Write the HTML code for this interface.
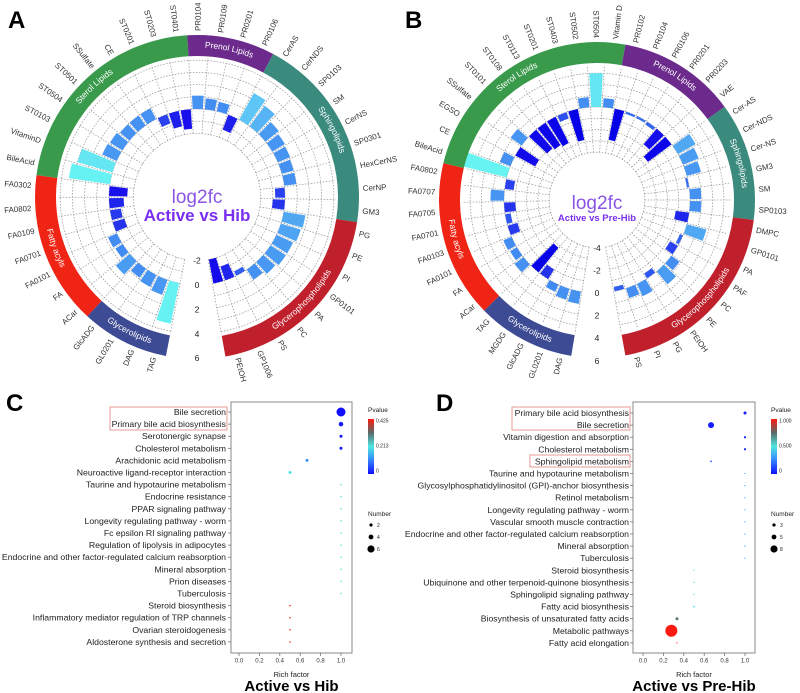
<!DOCTYPE html>
<html><head><meta charset="utf-8"><style>
html,body{margin:0;padding:0;background:#fff}
svg{display:block;font-family:"Liberation Sans",Arial,sans-serif}
</style></head><body>
<svg id="fig" width="800" height="693" viewBox="0 0 800 693" xmlns="http://www.w3.org/2000/svg">
<defs>
<linearGradient id="pg" x1="0" y1="1" x2="0" y2="0">
<stop offset="0" stop-color="#1010ff"/><stop offset="0.3" stop-color="#3a9af8"/><stop offset="0.5" stop-color="#50e6e0"/><stop offset="0.75" stop-color="#5a6a6a"/><stop offset="1" stop-color="#ff1a10"/>
</linearGradient>
</defs>
<g id="panelA"></g>
<g id="panelB"></g>
<g id="panelC"></g>
<g id="panelD"></g>
<text x="8" y="28" font-size="24" font-weight="bold">A</text>
<text x="405" y="28" font-size="24" font-weight="bold">B</text>
<text x="6" y="411" font-size="24" font-weight="bold">C</text>
<text x="436" y="411" font-size="24" font-weight="bold">D</text>
</svg>
<script>
// ---------- Data: panel A ----------
const aLabels = ["TAG","DAG","GL0201","GlcADG","ACar","FA","FA0101","FA0701","FA0109","FA0802","FA0302","BileAcid","VitaminD","ST0103","ST0504","ST0501","SSulfate","CE","ST0201","ST0203","ST0401","PR0104","PR0109","PR0201","PR0106","CerAS","CerNDS","SP0103","SM","CerNS","SP0301","HexCerNS","CerNP","GM3","PG","PE","PI","GP0101","PA","PC","PS","GP1006","PEtOH"];
const aValues = [3.4,1.3,1.1,0.9,1.5,0.7,0.8,-1.0,-0.9,-1.2,-1.5,3.4,3.0,1.3,1.2,1.0,1.0,1.0,-0.8,-1.3,-1.6,1.1,0.9,0.8,-1.3,2.5,2.1,1.4,1.2,1.1,1.0,1.0,-0.8,-1.0,1.8,1.7,1.5,1.5,1.3,1.0,-0.4,-1.2,-2.0];
const aGroups = ["Glycerolipids","Fatty acyls","Sterol Lipids","Prenol Lipids","Sphingolipids","Glycerophospholipids"];
const aGroupCounts = [4,7,10,4,9,9];
const aTicks = [-2,0,2,4,6];
// ---------- Data: panel B ----------
const bLabels = ["DAG","GL0201","GlcADG","MGDG","TAG","ACar","FA","FA0101","FA0103","FA0701","FA0705","FA0707","FA0802","BileAcid","CE","EGSO","SSulfate","ST0101","ST0108","ST0113","ST0201","ST0403","ST0502","ST0504","Vitamin D","PR0102","PR0104","PR0106","PR0201","PR0203","VAE","Cer-AS","Cer-NDS","Cer-NS","GM3","SM","SP0103","DMPC","GP0101","PA","PAF","PC","PE","PEtOH","PG","PI","PS"];
const bValues = [1.1,1.0,0.7,-1.0,-2.8,1.0,0.7,0.8,-0.9,-0.5,-1.0,1.2,-0.8,4.0,1.0,-2.0,1.2,-2.2,-2.4,-2.6,-0.6,-2.8,0.9,3.0,0.8,-2.8,-0.2,-0.2,-0.3,-1.8,-2.6,1.8,1.5,1.3,-0.2,1.0,1.0,-1.2,1.8,-0.3,-0.8,0.9,1.5,-0.5,1.2,0.9,-0.4];
const bGroups = ["Glycerolipids","Fatty acyls","Sterol Lipids","Prenol Lipids","Sphingolipids","Glycerophospholipids"];
const bGroupCounts = [5,8,12,6,6,10];
const bTicks = [-4,-2,0,2,4,6];
// ---------- Data: panel C ----------
const cPathways = ["Bile secretion","Primary bile acid biosynthesis","Serotonergic synapse","Cholesterol metabolism","Arachidonic acid metabolism","Neuroactive ligand-receptor interaction","Taurine and hypotaurine metabolism","Endocrine resistance","PPAR signaling pathway","Longevity regulating pathway - worm","Fc epsilon RI signaling pathway","Regulation of lipolysis in adipocytes","Endocrine and other factor-regulated calcium reabsorption","Mineral absorption","Prion diseases","Tuberculosis","Steroid biosynthesis","Inflammatory mediator regulation of TRP channels","Ovarian steroidogenesis","Aldosterone synthesis and secretion"];
const cRich = [1.0,1.0,1.0,1.0,0.667,0.5,1,1,1,1,1,1,1,1,1,1,0.5,0.5,0.5,0.5];
const cNumber = [6,3,2,2,2,2,1,1,1,1,1,1,1,1,1,1,1,1,1,1];
const cPvalue = [0.0,0.01,0.01,0.01,0.12,0.21,0.22,0.22,0.22,0.22,0.22,0.22,0.22,0.22,0.22,0.22,0.425,0.425,0.425,0.425];
// ---------- Data: panel D ----------
const dPathways = ["Primary bile acid biosynthesis","Bile secretion","Vitamin digestion and absorption","Cholesterol metabolism","Sphingolipid metabolism","Taurine and hypotaurine metabolism","Glycosylphosphatidylinositol (GPI)-anchor biosynthesis","Retinol metabolism","Longevity regulating pathway - worm","Vascular smooth muscle contraction","Endocrine and other factor-regulated calcium reabsorption","Mineral absorption","Tuberculosis","Steroid biosynthesis","Ubiquinone and other terpenoid-quinone biosynthesis","Sphingolipid signaling pathway","Fatty acid biosynthesis","Biosynthesis of unsaturated fatty acids","Metabolic pathways","Fatty acid elongation"];
const dRich = [1.0,0.667,1.0,1.0,0.667,1,1,1,1,1,1,1,1,0.5,0.5,0.5,0.5,0.333,0.278,0.333];
const dNumber = [2,4,1.5,1.5,1.2,0.8,0.8,0.8,0.8,0.8,0.8,0.8,0.8,0.8,0.8,0.8,1.2,2,8,0.8];
const dPvalue = [0.02,0.03,0.05,0.05,0.15,0.3,0.3,0.3,0.3,0.3,0.3,0.3,0.3,0.52,0.52,0.52,0.5,0.72,1.0,1.0];
const xTickVals = [0.0,0.2,0.4,0.6,0.8,1.0];

const NS="http://www.w3.org/2000/svg";
function mk(parent,tag,attrs){const e=document.createElementNS(NS,tag);for(const k in attrs)e.setAttribute(k,attrs[k]);parent.appendChild(e);return e;}
function pt(cx,cy,r,deg){const a=deg*Math.PI/180;return [cx+r*Math.sin(a),cy-r*Math.cos(a)];}
function arcPath(cx,cy,r,a0,a1){const p0=pt(cx,cy,r,a0),p1=pt(cx,cy,r,a1);const large=(Math.abs(a1-a0)>180)?1:0;const sw=a1>a0?1:0;return `M${p0[0]},${p0[1]} A${r},${r} 0 ${large} ${sw} ${p1[0]},${p1[1]}`;}
function sector(cx,cy,r0,r1,a0,a1){const p0=pt(cx,cy,r1,a0),p1=pt(cx,cy,r1,a1),p2=pt(cx,cy,r0,a1),p3=pt(cx,cy,r0,a0);const large=(a1-a0>180)?1:0;return `M${p0[0]},${p0[1]} A${r1},${r1} 0 ${large} 1 ${p1[0]},${p1[1]} L${p2[0]},${p2[1]} A${r0},${r0} 0 ${large} 0 ${p3[0]},${p3[1]} Z`;}
function lerpC(c1,c2,t){const a=parseInt(c1.slice(1),16),b=parseInt(c2.slice(1),16);const r=Math.round(((a>>16)&255)*(1-t)+((b>>16)&255)*t),g=Math.round(((a>>8)&255)*(1-t)+((b>>8)&255)*t),bl=Math.round((a&255)*(1-t)+(b&255)*t);return `rgb(${r},${g},${bl})`;}
function barColor(v){const st=[[-3,"#0500e6"],[-1.5,"#1a10ec"],[0,"#3a7af0"],[1.5,"#4a9cf2"],[2.4,"#5cc0f6"],[3.2,"#66f2f2"],[5,"#66f5f2"]];if(v<=st[0][0])return st[0][1];for(let i=1;i<st.length;i++){if(v<=st[i][0]){return lerpC(st[i-1][1],st[i][1],(v-st[i-1][0])/(st[i][0]-st[i-1][0]));}}return st[st.length-1][1];}
const groupColors={"Glycerolipids":"#3d4a94","Fatty acyls":"#f02414","Sterol Lipids":"#3a9a4c","Prenol Lipids":"#6b2a8c","Sphingolipids":"#3a8a7e","Glycerophospholipids":"#c0202c"};

function circular(g,cfg,labels,values,groups,counts,ticks){
  const {cx,cy,r0,k,startA,step,ringIn,ringOut}=cfg;
  const rv=v=>r0+k*v;
  const n=labels.length, aOf=i=>startA+i*step;
  const aFirst=aOf(0)-step/2, aLast=aOf(n-1)+step/2;
  for(let v=ticks[0];rv(v)<ringIn-1;v+=1){
    const c=mk(g,"path",{d:arcPath(cx,cy,rv(v),aFirst,aLast),fill:"none",stroke:"#999","stroke-width":0.75,"stroke-dasharray":"1.5,1.5"});
    
    
  }
  for(let i=0;i<=n;i++){
    const a=aFirst+i*step;const p0=pt(cx,cy,rv(ticks[0]),a),p1=pt(cx,cy,ringIn-2,a);
    const l=mk(g,"line",{x1:p0[0],y1:p0[1],x2:p1[0],y2:p1[1],stroke:"#999","stroke-width":0.75,"stroke-dasharray":"1.5,1.5"});
    
    
  }
  values.forEach((v,i)=>{
    const a=aOf(i),w=step*0.42;
    const ra=Math.min(rv(0),rv(v)),rb=Math.max(rv(0),rv(v));
    const b=mk(g,"path",{d:sector(cx,cy,ra,Math.max(rb,ra+1.5),a-w,a+w),fill:barColor(v)});
    
    
  });
  labels.forEach((s,i)=>{
    const a=aOf(i);const am=((a%360)+360)%360;const p=pt(cx,cy,ringOut+4,a);
    const right=am<180;const rot=right?am-90:am+90;
    const t=mk(g,"text",{x:p[0],y:p[1],"font-size":7.9,fill:"#333","text-anchor":right?"start":"end","dominant-baseline":"middle",transform:`rotate(${rot},${p[0]},${p[1]})`});
    t.textContent=s;
    
    
  });
  let idx=0;
  groups.forEach((gname,gi)=>{
    const a0=aOf(idx)-step/2,a1=aOf(idx+counts[gi]-1)+step/2;idx+=counts[gi];
    const s=mk(g,"path",{d:sector(cx,cy,ringIn,ringOut,a0,a1),fill:groupColors[gname]});
    
    
    const mid=(((a0+a1)/2)%360+360)%360;const rm=(ringIn+ringOut)/2;
    const pid=g.id+'-arc'+gi;
    const d=(mid>90&&mid<270)?arcPath(cx,cy,rm,a1,a0):arcPath(cx,cy,rm,a0,a1);
    mk(g,"path",{id:pid,d:d,fill:"none"});
    const t=mk(g,"text",{"font-size":8.5,fill:"#fff","dominant-baseline":"middle"});
    
    
    const tp=mk(t,"textPath",{href:'#'+pid,startOffset:"50%","text-anchor":"middle"});
    tp.textContent=gname;
  });
  ticks.forEach(v=>{
    const t=mk(g,"text",{x:cx,y:cy+rv(v)+3,"font-size":8.5,fill:"#222","text-anchor":"middle"});
    t.textContent=v;
    
    
  });
}
const gA=document.getElementById('panelA');
circular(gA,{cx:197,cy:197,r0:88,k:12.2,startA:195,step:7.88,ringIn:141,ringOut:162},aLabels,aValues,aGroups,aGroupCounts,aTicks);
const gB=document.getElementById('panelB');
circular(gB,{cx:597,cy:200,r0:93,k:11.3,startA:193,step:7.24,ringIn:137,ringOut:158},bLabels,bValues,bGroups,bGroupCounts,bTicks);
function ctext(g,x,y,s,size,fill,weight,name){const t=mk(g,"text",{x:x,y:y,"font-size":size,fill:fill,"font-weight":weight,"text-anchor":"middle"});t.textContent=s;}
ctext(gA,197,203,"log2fc",19,"#8a55e6","normal","center-title");
ctext(gA,197,221,"Active vs Hib",17,"#7a2ff0","bold","center-subtitle");
ctext(gB,597,209,"log2fc",19,"#8a55e6","normal","center-title");
ctext(gB,597,221,"Active vs Pre-Hib",9.5,"#7a2ff0","bold","center-subtitle");

function pColor(t){const st=[[0,"#1010ff"],[0.3,"#3a9af8"],[0.5,"#50e6e0"],[0.75,"#5a6a6a"],[1,"#ff1a10"]];for(let i=1;i<st.length;i++){if(t<=st[i][0])return lerpC(st[i-1][1],st[i][1],(t-st[i-1][0])/(st[i][0]-st[i-1][0]));}return st[4][1];}
function dotplot(g,cfg,paths,rich,num,pv,pmax,legTicks,numLeg,numR,title){
  const {x0,x1,px0,px1,top,bot,row0,rowH,lx}=cfg;
  const xs=v=>px0+(px1-px0)*v, ys=i=>row0+i*rowH;
  const box=mk(g,"rect",{x:x0,y:top,width:x1-x0,height:bot-top,fill:"none",stroke:"#888","stroke-width":1});
  
  
  paths.forEach((s,i)=>{
    const t=mk(g,"text",{x:lx,y:ys(i)+3,"font-size":8.7,fill:"#222","text-anchor":"end"});t.textContent=s;
    
    
    mk(g,"line",{x1:x0-3,x2:x0,y1:ys(i),y2:ys(i),stroke:"#666","stroke-width":0.7});
  });
  xTickVals.forEach(v=>{
    mk(g,"line",{x1:xs(v),x2:xs(v),y1:bot,y2:bot+3,stroke:"#666","stroke-width":0.7});
    const t=mk(g,"text",{x:xs(v),y:bot+9.5,"font-size":6,fill:"#333","text-anchor":"middle"});t.textContent=v.toFixed(1);
    
    
  });
  rich.forEach((r,i)=>{
    const c=mk(g,"circle",{cx:xs(r),cy:ys(i),r:Math.max(0.6,num[i]*0.75),fill:pColor(pv[i]/pmax)});
    
    
  });
  const mx=(x0+x1)/2;
  ctext(g,mx,bot+24,"Rich factor",7.5,"#222","normal","x-axis-title");
  ctext(g,mx,bot+38,title,15,"#000","bold","plot-title");
  const lgx=x1+16;
  const lt=mk(g,"text",{x:lgx,y:top+10,"font-size":6.5,fill:"#222"});lt.textContent="Pvalue";
  
  
  const cb=mk(g,"rect",{x:lgx,y:top+17,width:6,height:55,fill:"url(#pg)"});
  
  
  legTicks.forEach((s,i)=>{const t=mk(g,"text",{x:lgx+8,y:top+19+i*25,"font-size":5,fill:"#222","dominant-baseline":"middle"});t.textContent=s;
    
    });
  const nt=mk(g,"text",{x:lgx,y:top+114,"font-size":6.5,fill:"#222"});nt.textContent="Number";
  
  
  numLeg.forEach((s,i)=>{
    const yy=top+123+i*12;
    mk(g,"circle",{cx:lgx+3,cy:yy,r:numR[i],fill:"#000"});
    const t=mk(g,"text",{x:lgx+9,y:yy+2,"font-size":5,fill:"#222"});t.textContent=s;
    
    
  });
}
const gC=document.getElementById('panelC');
dotplot(gC,{x0:231,x1:352,px0:239,px1:341,top:402,bot:653,row0:412,rowH:12.1,lx:226},cPathways,cRich,cNumber,cPvalue,0.425,["0.425","0.213","0"],["2","4","6"],[1.6,2.4,3.6],"Active vs Hib");
const gD=document.getElementById('panelD');
dotplot(gD,{x0:633,x1:755,px0:643,px1:745,top:402,bot:653,row0:413,rowH:12.1,lx:629},dPathways,dRich,dNumber,dPvalue,1.0,["1.000","0.500","0"],["3","5","8"],[1.6,2.4,3.6],"Active vs Pre-Hib");
[[gC,110,407,117,23],[gD,512,407,118,23],[gD,530,455,100,12]].forEach(b=>{
  const r=mk(b[0],"rect",{x:b[1],y:b[2],width:b[3],height:b[4],fill:"none",stroke:"#e8908a","stroke-width":0.9});
  
  
});
</script>
</body></html>
